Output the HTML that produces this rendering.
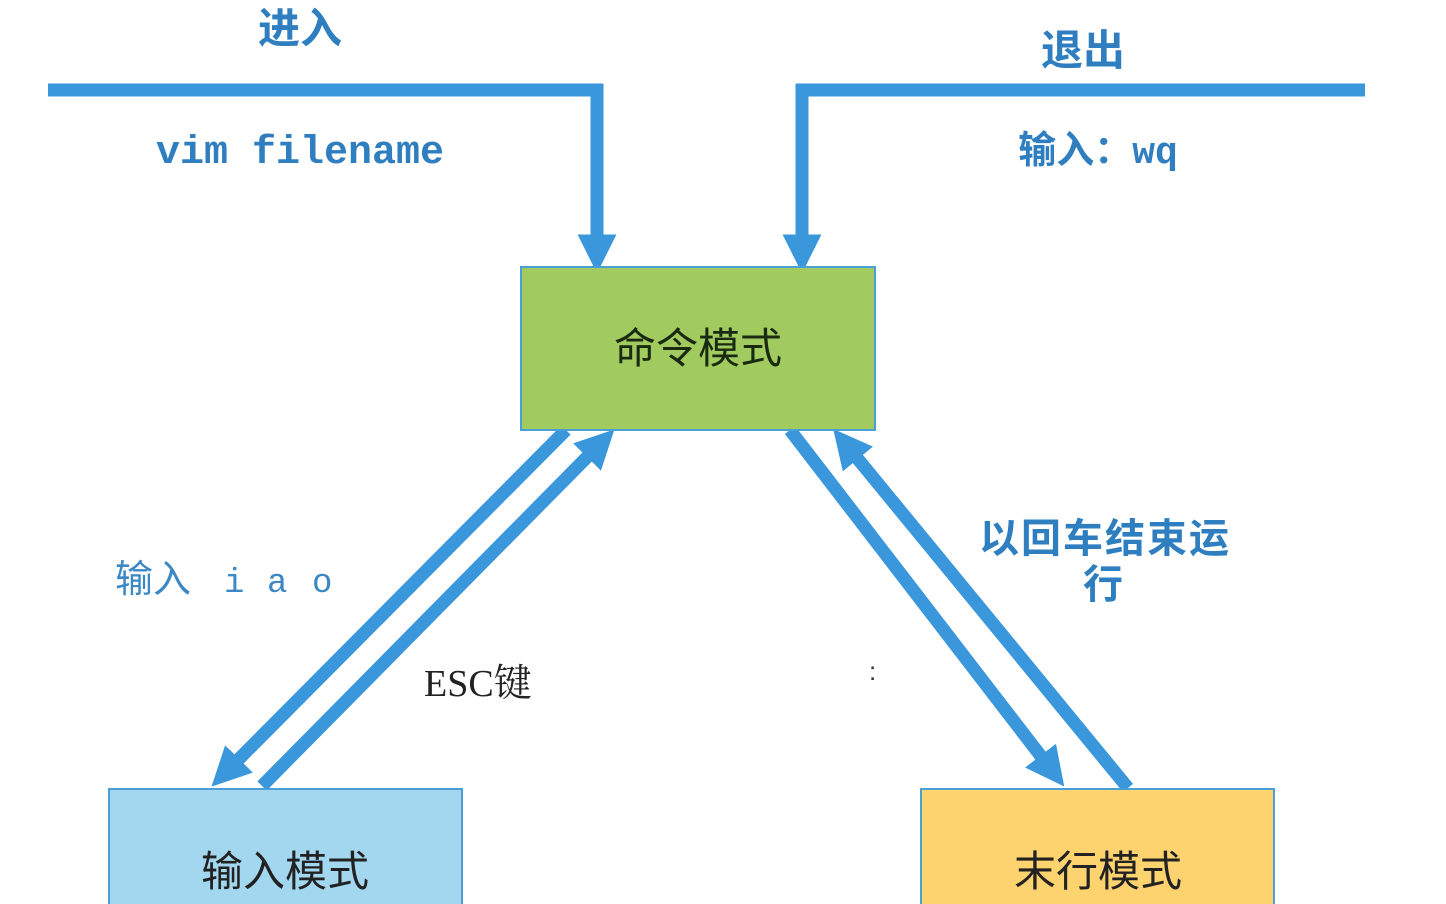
<!DOCTYPE html>
<html><head><meta charset="utf-8"><style>
body{margin:0;background:#fff;width:1446px;height:904px;overflow:hidden}
svg{display:block}
text{font-family:"Liberation Sans","Noto Sans CJK SC",sans-serif}
</style></head><body>
<svg width="1446" height="904" viewBox="0 0 1446 904">
<defs>
<marker id="ah" markerWidth="3" markerHeight="3" refX="1.2" refY="1.5" orient="auto" markerUnits="strokeWidth">
<path d="M0,0 L3,1.5 L0,3 Z" fill="#3a97dc"/></marker>
</defs>
<g fill="none" stroke="#3a97dc" stroke-width="13">
<polyline points="48,90 597,90 597,250" marker-end="url(#ah)"/>
<polyline points="1365,90 802,90 802,250" marker-end="url(#ah)"/>
<line x1="566" y1="430" x2="228" y2="770" marker-end="url(#ah)"/>
<line x1="262" y1="786" x2="598" y2="446" marker-end="url(#ah)"/>
<line x1="790" y1="430" x2="1050" y2="768" marker-end="url(#ah)"/>
<line x1="1128" y1="788" x2="848" y2="447" marker-end="url(#ah)"/>
</g>
<rect x="521" y="267" width="354" height="163" fill="#a2cb5f" stroke="#4aa0d6" stroke-width="2"/>
<rect x="109" y="789" width="353" height="130" fill="#a3d6ef" stroke="#4aa0d6" stroke-width="2"/>
<rect x="921" y="789" width="353" height="130" fill="#fdd36f" stroke="#4aa0d6" stroke-width="2"/>
<text x="698" y="363" font-size="42" text-anchor="middle" fill="#1a2a10">命令模式</text>
<text x="285" y="886" font-size="42" text-anchor="middle" fill="#222">输入模式</text>
<text x="1098" y="886" font-size="42" text-anchor="middle" fill="#222">末行模式</text>
<text x="300" y="43" font-size="42" font-weight="bold" text-anchor="middle" fill="#2f7fc0">进入</text>
<text x="1083" y="65" font-size="42" font-weight="bold" text-anchor="middle" fill="#2f7fc0">退出</text>
<text x="300" y="163" font-size="40" font-weight="bold" text-anchor="middle" fill="#2f7fc0" style="font-family:'Liberation Mono',monospace">vim filename</text>
<text x="1098" y="163" font-size="38" font-weight="bold" text-anchor="middle" fill="#2f7fc0">输入：<tspan style="font-family:'Liberation Mono',monospace">wq</tspan></text>
<text x="115" y="592" font-size="38" fill="#3b88c4">输入</text>
<text x="224" y="592" font-size="34" fill="#3b88c4" style="font-family:'Liberation Mono',monospace">i</text>
<text x="267" y="592" font-size="34" fill="#3b88c4" style="font-family:'Liberation Mono',monospace">a</text>
<text x="312" y="592" font-size="34" fill="#3b88c4" style="font-family:'Liberation Mono',monospace">o</text>
<text x="424" y="696" font-size="38" fill="#222" style="font-family:'Liberation Serif','Noto Serif CJK SC',serif">ESC键</text>
<text x="869" y="680" font-size="26" fill="#333">:</text>
<text x="1105" y="552" font-size="40" font-weight="bold" text-anchor="middle" fill="#2f7fc0" letter-spacing="2">以回车结束运</text>
<text x="1103" y="598" font-size="40" font-weight="bold" text-anchor="middle" fill="#2f7fc0">行</text>
</svg>
</body></html>
